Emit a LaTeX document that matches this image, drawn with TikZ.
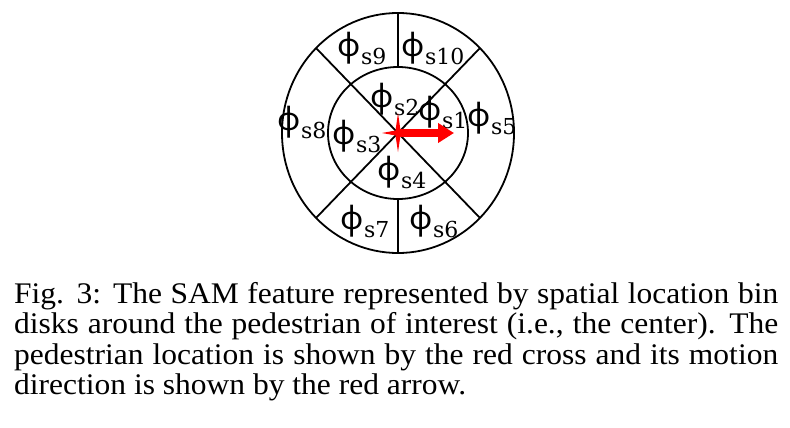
\documentclass[tikz,border=0pt]{standalone}
\usepackage{fontspec}
\setmainfont{Liberation Serif}
\newfontfamily\phif{Noto Sans}
\newfontfamily\subf{DejaVu Serif}
\usetikzlibrary{arrows.meta}
\tikzset{
  ring/.style={line width=1.8pt, draw=black},
  lab/.style={inner sep=0pt, anchor=center},
  capline/.style={inner sep=0pt, anchor=base west},
  redmark/.style={fill=red, draw=none},
  motionarrow/.style={draw=red, line width=7.5pt, -{Triangle[length=16pt,width=19pt]}}
}
\newcommand\phlab[1]{{\phif\fontsize{32}{32}\selectfont ϕ}\kern0.5pt\raisebox{-8pt}{\subf\fontsize{22}{22}\selectfont s#1}}
\newcommand\capfont{\fontsize{31.5}{31.5}\selectfont}
\begin{document}
\begin{tikzpicture}[x=1pt,y=-1pt]
\useasboundingbox (0,0) rectangle (790,428);
\fill[white] (0,0) rectangle (790,428);
\coordinate (c) at (398,133);
% rings
\draw[ring] (c) ellipse [x radius=116, y radius=120];
\draw[ring] (c) ellipse [x radius=70, y radius=66];
% diagonals
\coordinate (nw) at (316,48);
\coordinate (se) at (480,218);
\coordinate (ne) at (480,48);
\coordinate (sw) at (316,218);
\draw[ring] (nw) -- (se);
\draw[ring] (ne) -- (sw);
% vertical separators
\coordinate (ot) at (398,13);
\coordinate (it) at (398,67);
\coordinate (ib) at (398,199);
\coordinate (ob) at (398,253);
\draw[ring] (ot) -- (it);
\draw[ring] (ib) -- (ob);
% labels
\node[lab] (l9) at (362,48) {\phlab{9}};
\node[lab] (l10) at (433,48) {\phlab{10}};
\node[lab] (l2) at (395,99) {\phlab{2}};
\node[lab] (l1) at (443,112) {\phlab{1}};
\node[lab] (l5) at (492,118) {\phlab{5}};
\node[lab] (l8) at (302,122) {\phlab{8}};
\node[lab] (l3) at (357,136) {\phlab{3}};
\node[lab] (l4) at (402,172) {\phlab{4}};
\node[lab] (l7) at (365,221) {\phlab{7}};
\node[lab] (l6) at (434,221) {\phlab{6}};
% red cross and arrow
\fill[redmark] (398,113) -- (400.5,130.5) -- (412,133) -- (400.5,135.5) -- (398,152) -- (395.5,135.5) -- (382,133) -- (395.5,130.5) -- cycle;
\coordinate (tip) at (454,133);
\draw[motionarrow] (c) -- (tip);
% caption
\node[capline] (cap1) at (14,303) {\scalebox{1}[0.95]{\makebox[764pt][s]{\capfont Fig. 3: The SAM feature represented by spatial location bin}}};
\node[capline] (cap2) at (14,333.5) {\scalebox{1}[0.95]{\makebox[764pt][s]{\capfont disks around the pedestrian of interest (i.e., the center). The}}};
\node[capline] (cap3) at (14,364) {\scalebox{1}[0.95]{\makebox[764pt][s]{\capfont pedestrian location is shown by the red cross and its motion}}};
\node[capline] (cap4) at (14,394) {\scalebox{1}[0.95]{\capfont direction is shown by the red arrow.}};
\end{tikzpicture}
\end{document}
